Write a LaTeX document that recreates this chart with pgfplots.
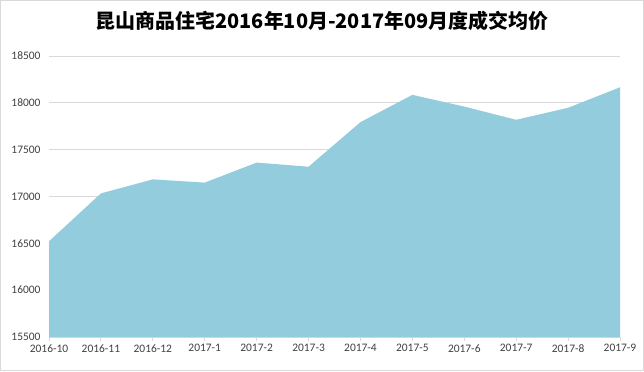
\documentclass[border=0pt]{standalone}
\usepackage{pgfplots}
\pgfplotsset{compat=1.18}
\usepackage{fontspec}
\setmainfont{Carlito}
\newfontfamily\cjk{Noto Sans CJK SC}
\definecolor{areablue}{HTML}{93CDDD}
\definecolor{gridgray}{HTML}{D9D9D9}
\definecolor{labgray}{HTML}{404040}
\begin{document}
\begin{tikzpicture}[x=1bp,y=1bp]
\fill[white] (0,0) rectangle (644,371);
\draw[color=gridgray, line width=1bp] (0.5,0.5) rectangle (643.5,370.5);
\useasboundingbox (0,0) rectangle (644,371);
\node[font={\cjk\bfseries\fontsize{20}{24}\selectfont}, text=black] at (322,350) {昆山商品住宅2016年10月-2017年09月度成交均价};
\begin{axis}[
  at={(49bp,34bp)}, anchor=south west,
  scale only axis, width=571bp, height=281bp,
  xmin=0, xmax=11, ymin=15500, ymax=18500,
  ytick={15500,16000,...,18500},
  scaled y ticks=false,
  xtick={0,...,11},
  xticklabels={2016-10,2016-11,2016-12,2017-1,2017-2,2017-3,2017-4,2017-5,2017-6,2017-7,2017-8,2017-9},
  /pgf/number format/assume math mode=true,
  /pgf/number format/1000 sep={},
  ticklabel style={font=\fontsize{11.5}{13}\selectfont, text=labgray},
  yticklabel style={xshift=-1bp},
  axis x line*=bottom, axis y line*=left,
  separate axis lines,
  x axis line style={draw=gridgray, line width=1bp},
  y axis line style={draw=none},
  ytick style={draw=none},
  xtick style={draw=gridgray, line width=1bp},
  tick align=outside,
  major tick length=4bp,
  ymajorgrids,
  grid style={draw=gridgray, line width=0.75bp},
]
\addplot[fill=areablue, draw=none] coordinates {
(0,16522) (1,17033) (2,17183) (3,17148) (4,17362) (5,17318) (6,17794) (7,18085) (8,17960) (9,17819) (10,17947) (11,18166)
} \closedcycle;
\end{axis}
\end{tikzpicture}
\end{document}
